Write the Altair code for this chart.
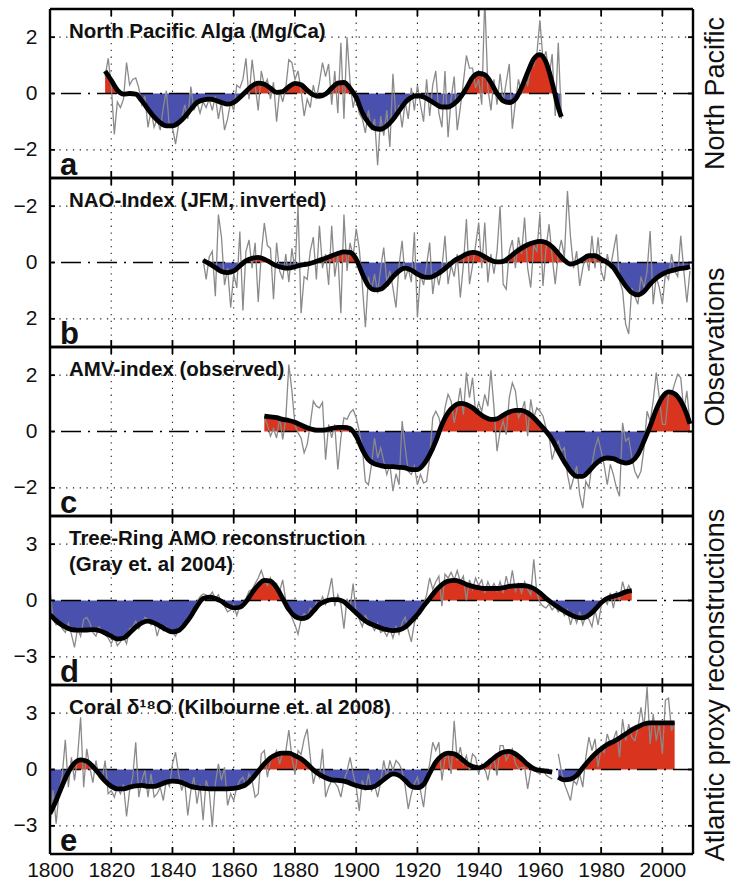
import altair as alt
import pandas as pd

FONT = "Liberation Sans"
W, H = 643, 169
RED = "#d8341e"
BLUE = "#4a50ad"
GRAY = "#8a8a8a"
X_TICKS = [1800, 1820, 1840, 1860, 1880, 1900, 1920, 1940, 1960, 1980, 2000]

# ---------------- Panel a: North Pacific Alga (Mg/Ca) ----------------
A_SMOOTH_YEARS = list(range(1818, 1967, 2)) + [1967]
A_SMOOTH = [0.8, 0.47, 0.12, -0.02, 0.0, -0.02, -0.26, -0.56, -0.83, -1.04,
            -1.15, -1.15, -1.04, -0.83, -0.56, -0.32, -0.23, -0.2, -0.24, -0.32,
            -0.38, -0.32, -0.14, 0.07, 0.27, 0.37, 0.33, 0.19, 0.04, 0.07,
            0.24, 0.36, 0.31, 0.12, -0.05, -0.1, -0.02, 0.19, 0.37, 0.39,
            0.19, -0.14, -0.68, -1.04, -1.24, -1.27, -1.15, -0.92, -0.62, -0.32,
            -0.14, -0.08, -0.12, -0.24, -0.38, -0.48, -0.48, -0.36, -0.14, 0.19,
            0.57, 0.71, 0.67, 0.39, 0.0, -0.26, -0.32, -0.2, 0.21, 0.75,
            1.23, 1.38, 1.11, 0.39, -0.5, -0.83]
A_RAW_START = 1818
A_RAW = [0.6, 1.25,
         0.3, -1.45, -0.3, -0.5, -0.2, 1.1, 0.3, 0.5, 0.55, 0.2,
         -0.4, -0.1, -1.2, -0.6, -1.2, -0.9, -1.3, -0.5, 0.1, -1.2,
         -1.2, -1.8, -1.1, -0.9, -0.4, -0.9, 0.25, -0.6, -0.3, -0.7,
         -0.3, -0.5, -0.2, -0.6, -0.1, -0.9, -0.3, -1.3, -0.9, -0.3,
         -0.6, 0.3, 0.2, 0.5, 1.25, -0.2, 1.2, 0.3, -0.6, 0.8,
         0.3, 0.5, -0.2, 0.4, -1.0, 0.1, -0.3, 0.2, 1.2, 1.1,
         0.5, 0.8, 0.1, -0.8, -0.2, -0.5, 0.3, -0.2, 0.4, 1.1,
         0.6, 1.05, -0.4, 0.8, -0.7, 1.8, -0.9, 2.0, 0.4, -0.5,
         0.0, -0.7, -0.9, -1.4, -0.6, -1.3, -0.9, -2.55, -0.8, -1.5,
         -0.6, -1.9, 0.7, -0.9, -0.4, -1.2, -0.3, -0.9, 0.2, -0.6,
         0.3, -0.4, -1.0, 0.5, -0.8, 0.3, 0.8, -0.7, -1.2, 0.8,
         -1.55, -0.2, 0.6, -1.3, -0.5, 0.4, 1.35, 0.9, 0.9, 0.2,
         0.5, -0.4, 3.4, 0.2, -0.6, 0.5, -0.4, 0.7, -0.3, 0.4,
         1.05, -1.25, -0.3, 0.5, 0.0, 0.6, 0.3, 0.9, 1.0, 1.4,
         2.6, 1.2, 1.5, 0.6, 1.4, -0.8, 1.8, -0.9]

# ---------------- Panel b: NAO index (JFM, inverted axis) ----------------
B_SMOOTH_YEARS = list(range(1850, 2009, 2)) + [2009]
B_SMOOTH = [-0.08, 0.04, 0.18, 0.32, 0.36, 0.3, 0.12, -0.06, -0.15, -0.18,
            -0.12, 0.0, 0.12, 0.18, 0.2, 0.15, 0.09, 0.06, 0.0, -0.08,
            -0.15, -0.24, -0.32, -0.38, -0.36, -0.12, 0.4, 0.83, 0.97, 0.95,
            0.77, 0.51, 0.3, 0.2, 0.27, 0.41, 0.51, 0.53, 0.44, 0.3,
            0.12, -0.06, -0.18, -0.3, -0.36, -0.32, -0.2, -0.08, -0.02, -0.04,
            -0.18, -0.36, -0.51, -0.63, -0.71, -0.75, -0.71, -0.56, -0.32, -0.08,
            0.06, 0.0, -0.12, -0.24, -0.24, -0.12, 0.0, 0.18, 0.51, 0.83,
            1.07, 1.15, 1.03, 0.77, 0.56, 0.41, 0.32, 0.26, 0.21, 0.18, 0.15]
B_RAW_START = 1850
B_RAW = [-0.1, 0.6, -0.2, -0.4, 1.2, -1.7, -0.9, 0.8, 0.2, 1.6,
         0.4, 0.9, -1.1, 1.7, -0.4, -0.8, 0.2, -0.7, 1.4, -0.3,
         -1.4, -0.6, -0.5, 1.3, -0.7, 0.3, 0.6, -0.3, 0.7, -0.5,
         0.3, -2.0, 1.8, 0.5, 0.6, -0.4, -0.9, 0.6, -1.3, 0.2,
         -0.3, 0.8, -1.3, 0.5, -0.3, 1.8, -1.7, 0.3, -0.7, -0.2,
         -1.2, -0.5, 0.8, 2.3, 0.5, 1.0, 0.4, 1.1, 0.2, -0.53,
         0.7, 0.3, 0.9, 1.6, 0.1, -0.77, 0.6, 0.2, 0.7, -1.07,
         1.95, 0.4, 0.8, 0.1, -0.71, 1.12, 0.3, 0.8, 0.2, -0.95,
         0.77, 0.1, 0.5, -0.3, 1.24, 0.1, -1.54, 0.77, 0.1, -0.6,
         -1.42, 0.2, -1.42, 0.71, -0.3, 0.4, -0.4, -2.0, 0.77, 0.95,
         -0.4, -0.8, 0.2, -0.9, -0.3, -1.6, 0.2, 0.89, -0.6, -0.4,
         -1.72, 0.83, -0.5, -1.36, -0.2, 0.77, -0.3, -0.8, -0.2, -2.54,
         -0.89, 0.2, -0.4, 0.83, 0.2, -0.3, 0.3, -0.95, 0.2, -0.89,
         0.3, 0.65, -0.3, 0.2, -0.4, -1.0, 0.65, 1.0, 2.19, 2.54,
         0.9, 1.2, 1.48, 0.5, 0.9, 0.3, -1.12, 1.48, 0.5, 0.9,
         1.48, 0.4, 0.6, -0.3, 0.3, 0.5, -0.95, 0.3, 1.42, 0.3]

# ---------------- Panel c: AMV index (observed) ----------------
C_SMOOTH_YEARS = list(range(1870, 2009, 2)) + [2009]
C_SMOOTH = [0.55, 0.52, 0.49, 0.43, 0.39, 0.33, 0.23, 0.13, 0.07, 0.05,
            0.06, 0.11, 0.15, 0.15, 0.11, -0.17, -0.64, -1.0, -1.15, -1.21,
            -1.25, -1.25, -1.27, -1.29, -1.35, -1.35, -1.17, -0.82, -0.34, 0.25,
            0.66, 0.9, 1.0, 0.96, 0.84, 0.66, 0.51, 0.43, 0.45, 0.58,
            0.69, 0.75, 0.75, 0.66, 0.49, 0.25, 0.01, -0.28, -0.7, -1.08,
            -1.41, -1.59, -1.59, -1.41, -1.17, -1.0, -0.94, -0.96, -1.06, -1.12,
            -1.06, -0.82, -0.34, 0.19, 0.78, 1.22, 1.41, 1.34, 1.08, 0.6, 0.27]
C_RAW_START = 1870
C_RAW = [0.49, 0.25, -0.17, 0.1, -0.23, 0.49, -0.28, 0.43, 2.38, 1.44,
         0.25, -0.05, -0.23, -0.76, -0.46, 0.25, 1.08, 0.9, 0.84, 1.04,
         -1.0, 0.25, -0.23, 0.25, -1.35, -0.23, 0.49, 0.43, 0.66, 0.78,
         0.49, 0.01, -0.58, -1.77, -1.89, -1.17, -0.23, -0.94, -0.58, -1.06,
         -1.53, -1.17, -2.12, -1.5, -1.89, 0.37, -0.58, -1.41, -1.53, -1.23,
         -1.89, -1.53, -1.83, -1.77, -0.94, 0.49, 0.72, 0.5, 0.01, 0.84,
         1.32, 1.08, 0.31, 0.84, 1.55, 0.6, 2.09, 1.2, 1.91, 0.66,
         1.02, 0.72, 1.32, 0.9, 2.17, 0.84, -0.7, 0.01, 0.37, -0.11,
         1.2, 1.73, 1.44, 0.49, 0.7, 1.08, -0.17, 1.14, 0.49, 0.84,
         0.72, 0.55, 0.13, -0.17, -1.0, -0.6, -0.34, -0.7, -0.58, -1.53,
         -2.06, -1.65, -1.23, -2.24, -2.72, -1.77, -2.0, -1.17, -0.58, -0.23,
         -0.7, -1.2, -1.89, -1.17, -1.53, -2.0, -2.3, 0.31, -0.34, -0.23,
         -0.9, -1.41, -1.65, -1.41, -0.58, 0.72, 0.37, 1.08, 2.09, 1.2,
         0.25, 0.25, 1.32, 1.32, 1.7, 2.03, 1.91, 0.72, 1.44, 0.31]

# ---------------- Panel d: Tree-ring AMO reconstruction ----------------
D_SMOOTH_YEARS = list(range(1800, 1991, 2))
D_SMOOTH = [-0.75, -1.07, -1.32, -1.49, -1.57, -1.58, -1.57, -1.55, -1.6, -1.73,
            -1.9, -2.05, -2.0, -1.73, -1.42, -1.19, -1.1, -1.19, -1.37, -1.55,
            -1.67, -1.6, -1.28, -0.84, -0.3, 0.11, 0.18, 0.11, -0.04, -0.27,
            -0.39, -0.36, -0.07, 0.41, 0.82, 1.07, 1.03, 0.68, 0.11, -0.48,
            -0.84, -0.96, -0.89, -0.57, -0.21, -0.04, 0.05, 0.05, -0.07, -0.36,
            -0.66, -0.96, -1.19, -1.33, -1.46, -1.55, -1.6, -1.57, -1.42, -1.1,
            -0.75, -0.3, 0.11, 0.53, 0.85, 1.03, 1.07, 1.0, 0.85, 0.75,
            0.68, 0.64, 0.64, 0.64, 0.68, 0.75, 0.78, 0.8, 0.77, 0.64,
            0.41, 0.11, -0.14, -0.36, -0.57, -0.75, -0.89, -0.93, -0.78, -0.48,
            -0.12, 0.11, 0.23, 0.32, 0.46, 0.53]
D_RAW_START = 1800
D_RAW = [0.6, -1.0, -1.3, -1.1, -1.5, -1.7, -1.2, -1.8, -2.5, -1.5,
         -1.9, -1.0, -0.9, -1.2, -1.7, -1.9, -1.4, -1.6, -1.8, -2.0,
         -2.3, -1.9, -2.4, -2.2, -1.9, -2.3, -1.5, -1.4, -1.1, -1.5,
         -1.2, -0.9, -1.0, -1.3, -1.1, -1.9, -1.3, -1.6, -1.4, -1.6,
         -1.7, -1.9, -1.5, -1.3, -1.4, -0.9, -0.8, -0.5, -0.1, 0.2,
         0.35, 0.3, 0.2, 0.45, 0.1, 0.3, -0.1, -0.3, -0.6, -0.5,
         -0.2, -0.8, -0.3, -0.1, 0.1, 0.5, 0.6, 0.9, 1.2, 1.6,
         1.1, 0.8, 1.2, 0.7, 0.9, 0.5, 1.1, 0.0, -0.5, -0.9,
         -1.3, -1.8, -1.0, -0.7, -0.9, -0.4, -0.6, -0.1, -0.3, 0.2,
         -0.2, 0.4, 1.2, -0.3, 0.3, -0.2, -1.5, 0.1, -0.4, 0.9,
         -0.7, -1.0, -1.4, -0.8, -1.1, -1.3, -1.6, -1.2, -1.7, -1.6,
         -1.9, -1.5, -2.0, -1.4, -1.8, -1.2, -0.9, -1.6, -2.2, -1.2,
         -0.8, -0.5, -0.2, 0.3, 1.2, 0.6, 1.0, 1.3, -0.3, 1.4,
         1.2, 1.5, 1.1, 1.6, 1.0, 1.3, 0.0, 1.1, 0.6, 1.2,
         0.8, 1.1, 0.4, 1.0, 0.6, 0.9, 0.5, 1.0, 0.4, 1.3,
         0.6, 1.6, 0.5, 0.9, 0.4, 1.0, 0.6, 0.3, 2.2, 0.4,
         -0.1, -0.3, -0.4, -0.2, -0.5, -0.3, -0.6, -0.4, -0.8, -0.5,
         -1.3, -0.7, -1.2, -0.6, -1.3, -0.8, -1.0, -1.4, -0.5, -1.3,
         -0.3, 0.1, -0.2, 0.4, -0.4, 0.5, 0.0, 1.0, 0.4, 0.8,
         0.5]

# ---------------- Panel e: Coral d18O (two segments) ----------------
E1_SMOOTH_YEARS = list(range(1800, 1965, 2))
E1_SMOOTH = [-2.35, -1.65, -0.85, -0.14, 0.34, 0.51, 0.44, 0.16, -0.23, -0.62,
             -0.9, -1.03, -1.03, -0.94, -0.87, -0.85, -0.9, -0.9, -0.8, -0.67,
             -0.62, -0.64, -0.76, -0.9, -0.97, -1.01, -1.03, -1.03, -1.03, -1.03,
             -1.01, -0.94, -0.8, -0.5, -0.09, 0.3, 0.62, 0.8, 0.87, 0.87,
             0.74, 0.57, 0.3, -0.02, -0.27, -0.44, -0.55, -0.58, -0.62, -0.73,
             -0.85, -0.94, -0.97, -0.9, -0.67, -0.41, -0.23, -0.32, -0.58, -0.9,
             -0.97, -0.8, -0.19, 0.39, 0.74, 0.87, 0.83, 0.62, 0.34, 0.16,
             0.09, 0.21, 0.48, 0.74, 0.92, 0.97, 0.83, 0.57, 0.27, 0.04,
             -0.05, -0.09, -0.14]
E2_SMOOTH_YEARS = list(range(1966, 2005, 2))
E2_SMOOTH = [-0.41, -0.55, -0.51, -0.32, 0.09, 0.48, 0.83, 1.1, 1.33, 1.49,
             1.68, 1.89, 2.11, 2.28, 2.42, 2.48, 2.48, 2.48, 2.48, 2.48]
E1_RAW_START = 1800
E1_RAW = [-2.97, -1.1, -2.88, -1.12, -0.3, 1.58, -0.94, 0.65, -0.58, 0.65,
          2.78, -0.94, 1.1, 0.12, -0.7, 0.48, -0.41, -0.58, 0.48, -1.29,
          -1.12, -1.47, -0.94, -1.29, -0.8, -2.5, -1.12, -0.41, 1.45, -1.47,
          -0.58, -0.05, -1.47, -0.23, -1.47, -1.29, -0.94, -1.65, -0.58, -0.9,
          0.3, 0.92, -0.23, -1.12, -0.6, -2.44, -1.12, -0.41, -1.82, -0.8,
          -2.7, -0.58, -1.12, -3.06, -0.76, 0.3, -0.58, 0.12, -1.91, -1.29,
          -1.65, -0.94, -0.58, -0.41, -0.9, -0.23, -0.6, -1.47, -1.29, 0.83,
          1.01, -0.41, 0.48, 0.65, 1.01, 0.3, 0.9, 0.95, 2.1, 0.65,
          -0.23, 1.01, 0.8, 1.63, 2.16, 0.65, -0.76, -0.05, -0.41, 1.1,
          -1.47, -0.94, -0.58, -0.7, -0.94, -1.47, -0.58, -0.1, 0.65, -0.23,
          -0.94, -2.2, -0.58, -1.12, -0.23, -1.12, -0.8, -1.47, -0.67, 0.48,
          -0.41, 0.48, -0.05, 0.48, 0.3, -0.05, -0.9, -2.1, -1.3, -0.76,
          -0.41, -1.12, -2.0, -0.58, 0.3, 1.45, 1.01, 1.45, -0.58, 0.6,
          0.83, -0.23, 2.6, 0.48, 1.19, 0.3, 0.74, -0.05, 0.83, 0.65,
          -0.23, 0.3, 0.1, -0.58, 0.3, 0.56, -0.32, 1.27, 1.27, 0.48,
          0.83, 1.1, 0.3, 0.05, 0.1, 0.12, -1.03, -0.05, 0.03, -0.14,
          -0.23, 0.03, -0.3, -0.41, -0.5]
E2_RAW_START = 1966
E2_RAW = [0.83, -0.05, -0.76, -1.2, -1.65, -0.58, -0.8, -0.23, -0.94, 0.65,
          1.72, 1.01, 1.63, 0.12, 1.19, 0.9, 1.9, 1.36, 1.6, 2.07,
          0.65, 2.69, 1.54, 2.42, 1.72, 1.54, 2.2, 3.31, 2.25, 4.4,
          1.36, 2.96, 1.54, 2.42, 0.83, 3.7, 3.8, 2.07, 2.5]


def smooth_df(parts):
    frames = []
    for seg, (yrs, vals) in enumerate(parts):
        frames.append(pd.DataFrame({"year": yrs, "v": vals, "seg": seg}))
    return pd.concat(frames, ignore_index=True)


def raw_df(parts):
    frames = []
    for seg, (start, vals) in enumerate(parts):
        yrs = list(range(start, start + len(vals)))
        frames.append(pd.DataFrame({"year": yrs, "v": vals, "seg": seg}))
    return pd.concat(frames, ignore_index=True)


def panel(sm, raw, dom, ticks, title_lines, letter, reverse=False,
          show_x=False, side_text=None, side_y=None):
    xs = alt.Scale(domain=[1800, 2010], nice=False, zero=False)
    ys = alt.Scale(domain=dom, reverse=reverse, nice=False, zero=False)
    if show_x:
        xax = alt.Axis(values=X_TICKS, format="d", labelFont=FONT, labelFontSize=21,
                       labelColor="#111", ticks=False, tickSize=0, domain=False,
                       grid=False, title=None, labelPadding=5, labelFlush=False)
    else:
        xax = None
    yax = alt.Axis(values=ticks, format="d", labelFont=FONT, labelFontSize=21,
                   labelColor="#111", ticks=False, tickSize=0, domain=False,
                   grid=False, title=None, labelPadding=13)

    def X(f="year"):
        return alt.X(f"{f}:Q", scale=xs, axis=xax)

    def Y(f="v"):
        return alt.Y(f"{f}:Q", scale=ys, axis=yax)

    layers = []
    # dotted grid
    layers.append(alt.Chart(pd.DataFrame({"year": X_TICKS[1:]})).mark_rule(
        color="#222", strokeWidth=1.1, strokeDash=[1.3, 5.5]).encode(x=X()))
    layers.append(alt.Chart(pd.DataFrame({"v": [t for t in ticks if t != 0]})).mark_rule(
        color="#222", strokeWidth=1.1, strokeDash=[1.3, 5.5]).encode(y=Y()))
    # fills: "up" (on screen) is red
    up_expr = "min(datum.v, 0)" if reverse else "max(datum.v, 0)"
    dn_expr = "max(datum.v, 0)" if reverse else "min(datum.v, 0)"
    layers.append(alt.Chart(sm).transform_calculate(p=up_expr).mark_area(
        color=RED, interpolate="monotone", opacity=1).encode(
        x=X(), y=Y("p"), y2=alt.datum(0), detail="seg:N"))
    layers.append(alt.Chart(sm).transform_calculate(p=dn_expr).mark_area(
        color=BLUE, interpolate="monotone", opacity=1).encode(
        x=X(), y=Y("p"), y2=alt.datum(0), detail="seg:N"))
    # zero line
    layers.append(alt.Chart(pd.DataFrame({"v": [0]})).mark_rule(
        color="black", strokeWidth=1.4, strokeDash=[20, 7, 2, 7]).encode(y=Y()))
    # raw series
    layers.append(alt.Chart(raw).mark_line(
        color=GRAY, strokeWidth=1.3, clip=True).encode(x=X(), y=Y(), detail="seg:N"))
    # smoothed
    layers.append(alt.Chart(sm).mark_line(
        color="black", strokeWidth=4.8, interpolate="monotone", clip=True).encode(
        x=X(), y=Y(), detail="seg:N"))
    # inward ticks
    tdf = pd.DataFrame({"year": X_TICKS})
    layers.append(alt.Chart(tdf).mark_rule(color="black", strokeWidth=1.8).encode(
        x=X(), y=alt.value(0), y2=alt.value(7)))
    layers.append(alt.Chart(tdf).mark_rule(color="black", strokeWidth=1.8).encode(
        x=X(), y=alt.value(H - 7), y2=alt.value(H)))
    vdf = pd.DataFrame({"v": ticks})
    layers.append(alt.Chart(vdf).mark_rule(color="black", strokeWidth=1.8).encode(
        y=Y(), x=alt.value(0), x2=alt.value(5)))
    layers.append(alt.Chart(vdf).mark_rule(color="black", strokeWidth=1.8).encode(
        y=Y(), x=alt.value(W - 5), x2=alt.value(W)))
    # panel frame (drawn as rules along the four edges)
    layers.append(alt.Chart(pd.DataFrame({"k": [0]})).mark_rule(
        color="black", strokeWidth=2.4).encode(
        x=alt.value(0), x2=alt.value(W), y=alt.value(0)))
    layers.append(alt.Chart(pd.DataFrame({"k": [0]})).mark_rule(
        color="black", strokeWidth=2.4).encode(
        x=alt.value(0), x2=alt.value(W), y=alt.value(H)))
    layers.append(alt.Chart(pd.DataFrame({"k": [0]})).mark_rule(
        color="black", strokeWidth=2.4).encode(
        y=alt.value(0), y2=alt.value(H), x=alt.value(0)))
    layers.append(alt.Chart(pd.DataFrame({"k": [0]})).mark_rule(
        color="black", strokeWidth=2.4).encode(
        y=alt.value(0), y2=alt.value(H), x=alt.value(W)))
    # title text
    for i, line in enumerate(title_lines):
        layers.append(alt.Chart(pd.DataFrame({"t": [line]})).mark_text(
            font=FONT, fontSize=20.5, fontWeight="bold", align="left",
            baseline="alphabetic", color="#111").encode(
            text="t:N", x=alt.value(19), y=alt.value(29 + 25.5 * i)))
    # panel letter
    layers.append(alt.Chart(pd.DataFrame({"t": [letter]})).mark_text(
        font=FONT, fontSize=31, fontWeight="bold", align="left",
        baseline="alphabetic", color="#111").encode(
        text="t:N", x=alt.value(10), y=alt.value(H - 3)))
    # side label
    if side_text:
        layers.append(alt.Chart(pd.DataFrame({"t": [side_text]})).mark_text(
            font=FONT, fontSize=27, angle=270, align="center", baseline="middle",
            color="#111").encode(
            text="t:N", x=alt.value(W + 23), y=alt.value(side_y)))
    return alt.layer(*layers).properties(width=W, height=H)


pa = panel(smooth_df([(A_SMOOTH_YEARS, A_SMOOTH)]), raw_df([(A_RAW_START, A_RAW)]),
           [-3, 3], [-2, 0, 2], ["North Pacific Alga (Mg/Ca)"], "a",
           side_text="North Pacific", side_y=H / 2)
pb = panel(smooth_df([(B_SMOOTH_YEARS, B_SMOOTH)]), raw_df([(B_RAW_START, B_RAW)]),
           [-3, 3], [-2, 0, 2], ["NAO-Index (JFM, inverted)"], "b", reverse=True,
           side_text="Observations", side_y=H)
pc = panel(smooth_df([(C_SMOOTH_YEARS, C_SMOOTH)]), raw_df([(C_RAW_START, C_RAW)]),
           [-3, 3], [-2, 0, 2], ["AMV-index (observed)"], "c")
pd_ = panel(smooth_df([(D_SMOOTH_YEARS, D_SMOOTH)]), raw_df([(D_RAW_START, D_RAW)]),
            [-4.5, 4.5], [-3, 0, 3],
            ["Tree-Ring AMO reconstruction", "(Gray et. al 2004)"], "d",
            side_text="Atlantic proxy reconstructions", side_y=H)
pe = panel(smooth_df([(E1_SMOOTH_YEARS, E1_SMOOTH), (E2_SMOOTH_YEARS, E2_SMOOTH)]),
           raw_df([(E1_RAW_START, E1_RAW), (E2_RAW_START, E2_RAW)]),
           [-4.5, 4.5], [-3, 0, 3], ["Coral δ¹⁸O (Kilbourne et. al 2008)"], "e",
           show_x=True)

chart = alt.vconcat(pa, pb, pc, pd_, pe, spacing=0, bounds="flush").properties(
    padding={"left": 12, "top": 7, "right": 2, "bottom": 2}
).configure_view(stroke=None).configure(background="white")

chart.save("out.html", embed_options={"renderer": "svg", "actions": False})
